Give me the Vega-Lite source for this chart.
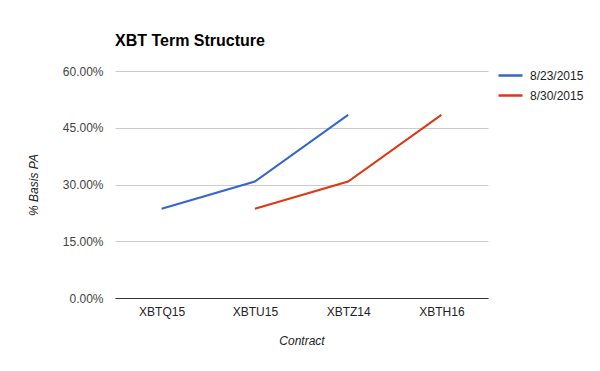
{
  "$schema": "https://vega.github.io/schema/vega-lite/v6.json",
  "width": 373,
  "height": 227,
  "autosize": "none",
  "padding": {"left": 115, "top": 71, "right": 112, "bottom": 73},
  "background": "white",
  "title": {
    "text": "XBT Term Structure",
    "anchor": "start",
    "frame": "group",
    "font": "Liberation Sans",
    "fontSize": 16,
    "fontWeight": "bold",
    "color": "#000000",
    "offset": 13
  },
  "data": {
    "values": [
      {"contract": "XBTQ15", "series": "8/23/2015", "basis": 0.236},
      {"contract": "XBTU15", "series": "8/23/2015", "basis": 0.308},
      {"contract": "XBTZ14", "series": "8/23/2015", "basis": 0.484},
      {"contract": "XBTU15", "series": "8/30/2015", "basis": 0.236},
      {"contract": "XBTZ14", "series": "8/30/2015", "basis": 0.308},
      {"contract": "XBTH16", "series": "8/30/2015", "basis": 0.484}
    ]
  },
  "mark": {"type": "line", "strokeWidth": 2},
  "encoding": {
    "x": {
      "field": "contract",
      "type": "nominal",
      "sort": ["XBTQ15", "XBTU15", "XBTZ14", "XBTH16"],
      "scale": {"type": "point", "padding": 0.5},
      "axis": {
        "title": "Contract",
        "labelAngle": 0,
        "ticks": false,
        "domainColor": "#333333",
        "labelFont": "Liberation Sans",
        "labelFontSize": 12,
        "labelColor": "#222222",
        "labelPadding": 8,
        "titleFont": "Liberation Sans",
        "titleFontSize": 12,
        "titleFontStyle": "italic",
        "titleFontWeight": "normal",
        "titleColor": "#222222",
        "titlePadding": 18,
        "grid": false
      }
    },
    "y": {
      "field": "basis",
      "type": "quantitative",
      "scale": {"domain": [0, 0.6], "nice": false},
      "axis": {
        "title": "% Basis PA",
        "format": ".2%",
        "values": [0, 0.15, 0.3, 0.45, 0.6],
        "ticks": false,
        "domain": false,
        "gridColor": "#cccccc",
        "labelFont": "Liberation Sans",
        "labelFontSize": 12,
        "labelColor": "#444444",
        "labelPadding": 12,
        "titleFont": "Liberation Sans",
        "titleFontSize": 12,
        "titleFontStyle": "italic",
        "titleFontWeight": "normal",
        "titleColor": "#222222",
        "titlePadding": 22
      }
    },
    "color": {
      "field": "series",
      "type": "nominal",
      "scale": {"domain": ["8/23/2015", "8/30/2015"], "range": ["#3366cc", "#dc3912"]},
      "legend": {
        "title": null,
        "orient": "none",
        "legendX": 382,
        "legendY": -9,
        "symbolType": "stroke",
        "symbolStrokeWidth": 2.5,
        "symbolSize": 576,
        "labelFont": "Liberation Sans",
        "labelFontSize": 12,
        "labelColor": "#222222",
        "labelOffset": 6,
        "rowPadding": -2
      }
    }
  },
  "config": {"view": {"stroke": null}}
}
